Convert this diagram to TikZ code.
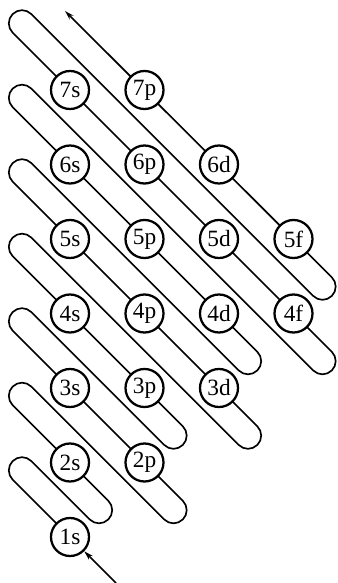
\documentclass[tikz,border=0pt]{standalone}
\usepackage{fontspec}
\setmainfont{Liberation Serif}
\usetikzlibrary{arrows.meta,backgrounds}
\begin{document}
\begin{tikzpicture}[x=0.75pt,y=-0.75pt,
  orb/.style={circle,draw,line width=1.7pt,fill=white,minimum size=28.5pt,inner sep=0pt,
    font=\fontsize{17.5}{19}\selectfont},
  snakeline/.style={line width=1.25pt,rounded corners=9.85pt,line join=round},
  tipend/.style={-{Stealth[length=7pt,width=4pt]}}]
\useasboundingbox (0,0) rectangle (337,583);
\foreach \n/\l/\t in {1/0/s,2/0/s,2/1/p,3/0/s,3/1/p,3/2/d,4/0/s,4/1/p,4/2/d,4/3/f,
  5/0/s,5/1/p,5/2/d,5/3/f,6/0/s,6/1/p,6/2/d,7/0/s,7/1/p}
  \node[orb] (o\n\t) at ({70+74.5*\l},{537-74.5*(\n-1)}) {\n\t};
\coordinate (in) at (116,583);
\coordinate (out) at (65,11);
\draw[line width=1.25pt,tipend] (in) -- (o1s);
\begin{scope}[on background layer]
\draw[snakeline,tipend] (o1s.center)
  -- (3.375,470.375) -- (22,451.75)
  -- (99,528.75) -- (117.625,510.125)
  -- (3.375,395.875) -- (22,377.25)
  -- (173.5,528.75) -- (192.125,510.125)
  -- (3.375,321.375) -- (22,302.75)
  -- (173.5,454.25) -- (192.125,435.625)
  -- (3.375,246.875) -- (22,228.25)
  -- (248,454.25) -- (266.625,435.625)
  -- (3.375,172.375) -- (22,153.75)
  -- (248,379.75) -- (266.625,361.125)
  -- (3.375,97.875) -- (22,79.25)
  -- (322.5,379.75) -- (341.125,361.125)
  -- (3.375,23.375) -- (22,4.75)
  -- (322.5,305.25) -- (341.125,286.625)
  -- (out);
\end{scope}
\end{tikzpicture}
\end{document}
